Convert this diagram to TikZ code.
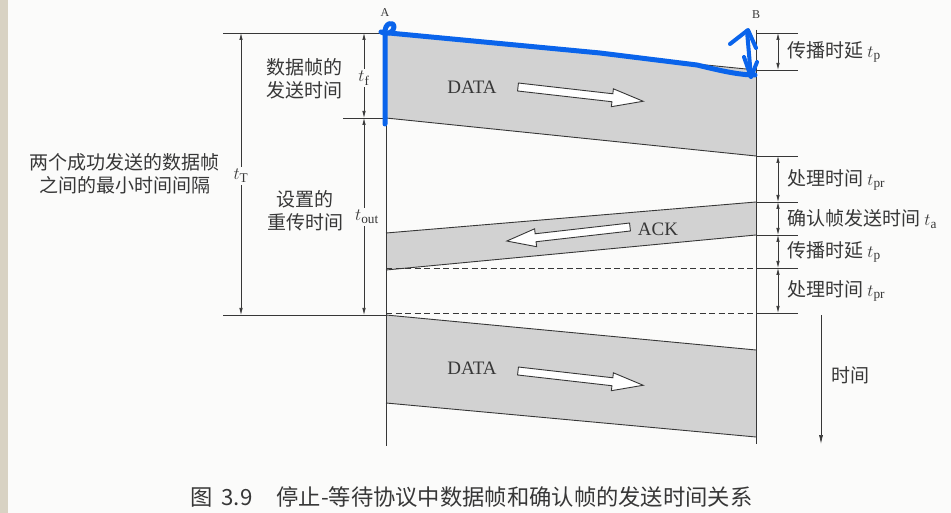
\documentclass[tikz,border=0pt]{standalone}
\usepackage{fontspec}
\setmainfont{Liberation Serif}
\newfontfamily\cjk{Noto Sans CJK SC}
\usetikzlibrary{arrows.meta}
\definecolor{paper}{RGB}{251,251,250}
\definecolor{strip}{RGB}{216,210,195}
\definecolor{ink}{RGB}{55,55,55}
\definecolor{framegray}{RGB}{210,210,210}
\definecolor{penblue}{RGB}{10,100,235}
\tikzstyle{every node}=[ink, inner sep=0pt]
\tikzstyle{frame}=[fill=framegray]
\tikzstyle{edge}=[ink, line width=0.9pt]
\tikzstyle{tick}=[ink, line width=0.7pt]
\tikzstyle{span}=[ink, line width=0.7pt, {Latex[length=7pt,width=3.5pt]}-{Latex[length=7pt,width=3.5pt]}]
\tikzstyle{hollow}=[ink, line width=0.9pt, fill=white, line join=miter]
\tikzstyle{cn}=[font=\cjk\fontsize{19}{23}\selectfont, align=center]
\tikzstyle{tlabel}=[font=\fontsize{19}{23}\selectfont, fill=paper, inner sep=2pt]
\tikzstyle{frametext}=[font=\fontsize{19}{23}\selectfont]
\tikzstyle{pen}=[penblue, line width=5pt, line cap=round, line join=round]

\begin{document}
\begin{tikzpicture}[x=1pt, y=-1pt]
% Page
    \fill[paper] (0,0) rectangle (951,513);
    \fill[strip] (0,0) rectangle (8,513);
    \useasboundingbox (0,0) rectangle (951,513);
% Frames
    \fill[frame] (386,33) -- (756,70) -- (756,156) -- (386,118) -- cycle;
    \fill[frame] (756,202) -- (386,233) -- (386,270) -- (756,235) -- cycle;
    \fill[frame] (386,315) -- (756,350) -- (756,437) -- (386,403) -- cycle;
    \draw[edge] (386,33) -- (756,70);
    \draw[edge] (386,118) -- (756,156);
    \draw[edge] (756,202) -- (386,233);
    \draw[edge] (756,235) -- (386,270);
    \draw[edge] (386,315) -- (756,350);
    \draw[edge] (386,403) -- (756,437);
    \draw[tick, dash pattern=on 6pt off 3.5pt] (386,268) -- (756,268);
    \draw[tick, dash pattern=on 6pt off 3.5pt] (386,313) -- (756,313);
% Stations
    \draw[edge] (386,30) -- (386,446);
    \draw[edge] (756,30) -- (756,444);
    \node[font=\fontsize{12}{14}\selectfont] (stA) at (385,13) {A};
    \node[font=\fontsize{12}{14}\selectfont] (stB) at (756,15) {B};
% Left marks
    \draw[tick] (223,33) -- (386,33);
    \draw[tick] (343,118) -- (386,118);
    \draw[tick] (223,315) -- (386,315);
    \draw[span] (241,33) -- (241,315);
    \draw[span] (364,33) -- (364,118);
    \draw[span] (364,118) -- (364,315);
    \node[tlabel] (tT) at (241,176) {$t_{\mathrm{T}}$};
    \node[tlabel] (tf) at (364,78) {$t_{\mathrm{f}}$};
    \node[tlabel] (tout) at (367,217) {$t_{\mathrm{out}}$};
    \node[cn] (gap) at (125,174) {两个成功发送的数据帧\\之间的最小时间间隔};
    \node[cn] (send) at (304,79) {数据帧的\\发送时间};
    \node[cn] (retry) at (305,211) {设置的\\重传时间};
% Right marks
    \draw[tick] (756,33) -- (798,33);
    \draw[tick] (756,70) -- (798,70);
    \draw[tick] (756,156) -- (798,156);
    \draw[tick] (756,202) -- (798,202);
    \draw[tick] (756,235) -- (798,235);
    \draw[tick] (756,268) -- (798,268);
    \draw[tick] (756,313) -- (798,313);
    \draw[span] (778,33) -- (778,70);
    \draw[span] (778,156) -- (778,202);
    \draw[span] (778,202) -- (778,235);
    \draw[span] (778,235) -- (778,268);
    \draw[span] (778,268) -- (778,313);
    \node[cn, anchor=west] (prop1) at (787,52) {传播时延 $t_{\mathrm{p}}$};
    \node[cn, anchor=west] (proc1) at (787,180) {处理时间 $t_{\mathrm{pr}}$};
    \node[cn, anchor=west] (ackt) at (787,219) {确认帧发送时间 $t_{\mathrm{a}}$};
    \node[cn, anchor=west] (prop2) at (787,252) {传播时延 $t_{\mathrm{p}}$};
    \node[cn, anchor=west] (proc2) at (787,291) {处理时间 $t_{\mathrm{pr}}$};
% Time axis
    \draw[tick, -{Latex[length=9pt,width=4pt]}] (821,315) -- (821,444);
    \node[cn] (time) at (850,375) {时间};
% Frame labels and hollow arrows
    \node[frametext] (data1) at (472,87) {DATA};
    \node[frametext] (ack) at (658,229) {ACK};
    \node[frametext] (data2) at (472,368) {DATA};
    \draw[hollow, shift={(518,87)}, rotate=-6.5] (0,-4) -- (95,-4) -- (95,-9) -- (126,0) -- (95,9) -- (95,4) -- (0,4) -- cycle;
    \draw[hollow, shift={(630,227)}, rotate=186.5] (0,-4) -- (95,-4) -- (95,-9) -- (124,0) -- (95,9) -- (95,4) -- (0,4) -- cycle;
    \draw[hollow, shift={(518,371)}, rotate=-6.5] (0,-4) -- (95,-4) -- (95,-9) -- (126,0) -- (95,9) -- (95,4) -- (0,4) -- cycle;
% Caption
    \node[font=\cjk\fontsize{22.3}{26}\selectfont, anchor=west] (caption) at (190,497) {图\hspace{9pt}3.9\hspace{24pt}停止-等待协议中数据帧和确认帧的发送时间关系};
% Pen marks
    \draw[pen] (385,124) -- (385,34) .. controls (384,22) and (394,21) .. (394,27) .. controls (394,33) and (386,35) .. (381,32);
    \draw[pen] (389,33) -- (600,53) -- (697,65) .. controls (718,70) and (738,75) .. (755,75);
    \draw[pen, line width=4pt] (747,31) -- (751,77);
    \draw[pen, line width=4pt] (730,44) -- (748,30) -- (756,48);
    \draw[pen, line width=4pt] (744,57) -- (751,77) -- (757,62);
\end{tikzpicture}
\end{document}
